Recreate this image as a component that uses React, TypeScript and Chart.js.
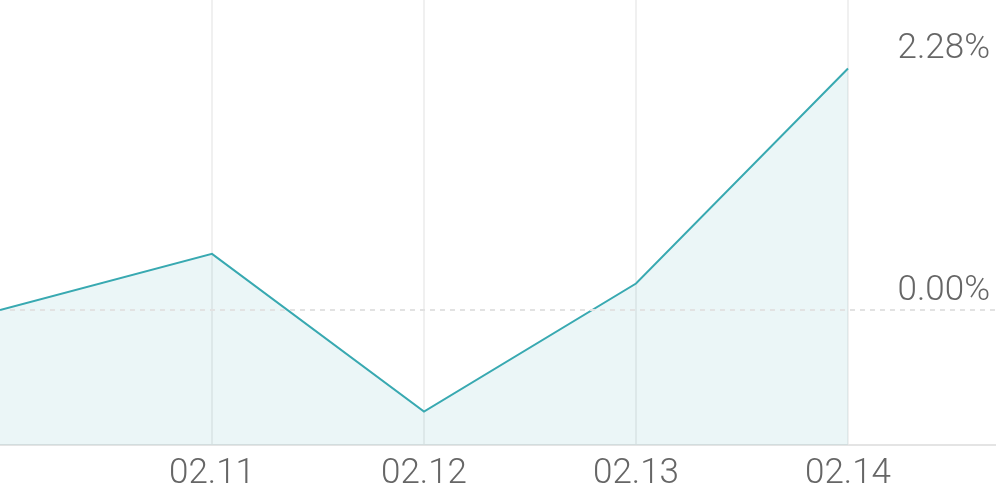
import { useEffect, useRef } from "react"
import { Chart, registerables } from "chart.js"

Chart.register(...registerables)

// Data
const dates = ["02.10", "02.11", "02.12", "02.13", "02.14"]
const changes = [0.0, 0.53, -0.96, 0.25, 2.28]
const markedLevels = [2.28, 0.0]

const LINE = "#38a9b1"
const FILL = "rgba(56, 169, 177, 0.1)"
const TEXT = "#666666"

// Dashed zero line and right-hand % labels
const levelPlugin = {
  id: "levels",
  afterDatasetsDraw(chart: Chart) {
    const { ctx, chartArea, scales } = chart
    const y = scales.y
    const zeroY = y.getPixelForValue(0)
    ctx.save()
    ctx.strokeStyle = "#e2e2e2"
    ctx.lineWidth = 2
    ctx.setLineDash([5, 5])
    ctx.beginPath()
    ctx.moveTo(chartArea.left + 10, zeroY)
    ctx.lineTo(chartArea.right, zeroY)
    ctx.stroke()
    ctx.setLineDash([])

    ctx.fillStyle = TEXT
    ctx.font = "300 35px Roboto"
    ctx.textAlign = "right"
    ctx.textBaseline = "middle"
    markedLevels.forEach((v) => {
      ctx.fillText(`${v.toFixed(2)}%`, chartArea.right - 6, y.getPixelForValue(v) - 19)
    })
    ctx.restore()
  },
}

const LineChart = () => {
  const canvasRef = useRef<HTMLCanvasElement>(null)
  const chartRef = useRef<Chart | null>(null)

  useEffect(() => {
    if (!canvasRef.current) return
    const ctx = canvasRef.current.getContext("2d")
    if (!ctx) return

    chartRef.current = new Chart(ctx, {
      type: "line",
      data: {
        datasets: [
          {
            data: changes.map((v, i) => ({ x: i, y: v })),
            borderColor: LINE,
            borderWidth: 2,
            backgroundColor: FILL,
            fill: "start",
            tension: 0,
            pointRadius: 0,
          },
        ],
      },
      options: {
        responsive: true,
        maintainAspectRatio: false,
        animation: false,
        layout: { padding: 0 },
        plugins: {
          legend: { display: false },
          tooltip: { enabled: false },
        },
        scales: {
          x: {
            type: "linear",
            min: 0,
            max: 996 / 212,
            afterBuildTicks: (s: any) => {
              s.ticks = dates.map((_, i) => ({ value: i }))
            },
            afterFit: (s: any) => {
              s.paddingLeft = 0
              s.paddingRight = 0
              s.height = 45
            },
            grid: {
              drawTicks: false,
              lineWidth: 2,
              color: (c: any) => (c.tick && c.tick.value > 0 ? "#f0f0f0" : "rgba(0,0,0,0)"),
            },
            border: { color: "#e4e4e4", width: 2 },
            ticks: {
              padding: 8,
              color: TEXT,
              font: { family: "Roboto", size: 35, weight: "300" },
              maxRotation: 0,
              autoSkip: false,
              callback: (v: any) => (v > 0 && v < dates.length ? dates[v] : ""),
            },
          },
          y: {
            display: false,
            min: -1.275,
            max: 2.927,
          },
        },
      },
      plugins: [levelPlugin],
    })

    return () => {
      chartRef.current?.destroy()
    }
  }, [])

  return <canvas ref={canvasRef} />
}

export default function App() {
  return (
    <div style={{ position: "fixed", left: 0, top: 0, width: 996, height: 490, background: "#fff" }}>
      <LineChart />
    </div>
  )
}
